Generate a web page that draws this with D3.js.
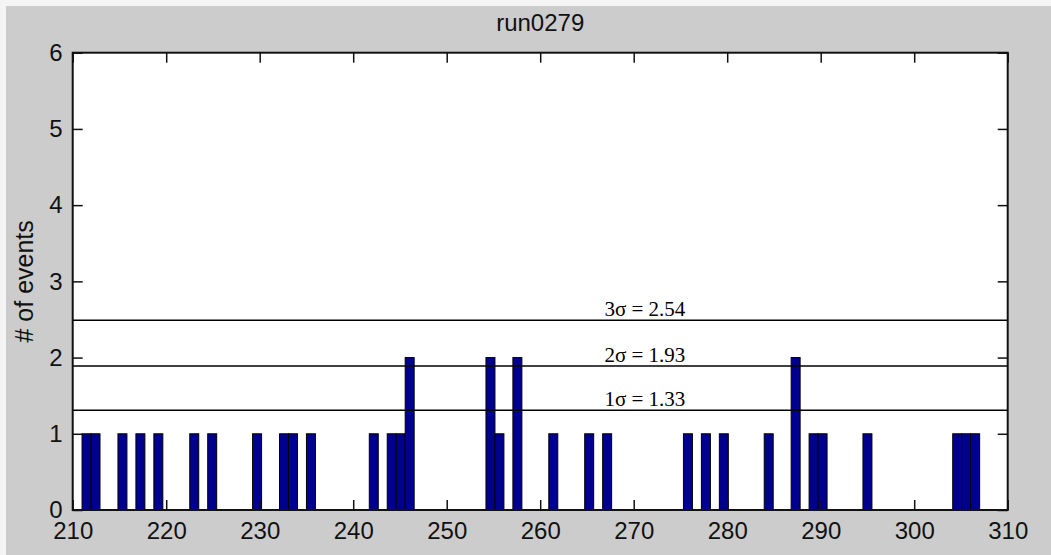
<!DOCTYPE html>
<html>
<head>
<meta charset="utf-8">
<script src="https://cdn.jsdelivr.net/npm/d3@7"></script>
<style>
  body { margin: 0; background: #ffffff; }
  text { font-family: "Liberation Sans", Arial, sans-serif; }
</style>
</head>
<body>
<div id="chart"></div>
<script>
// histogram bins (bin centres) and counts
var binCenters = [211.48, 212.44, 215.32, 217.24, 219.16, 223.00, 224.92, 229.72, 232.60, 233.56,
                  235.48, 242.20, 244.12, 245.08, 246.04, 254.68, 255.64, 257.56, 261.40, 265.24,
                  267.16, 275.80, 277.72, 279.64, 284.44, 287.32, 289.24, 290.20, 295.00, 304.60,
                  305.56, 306.52];
var counts = [1, 1, 1, 1, 1, 1, 1, 1, 1, 1,
              1, 1, 1, 1, 2, 2, 1, 2, 1, 1,
              1, 1, 1, 1, 1, 2, 1, 1, 1, 1,
              1, 1];
var binWidth = 0.96;

// sigma threshold lines
var sigmaLevels = [1.31, 1.89, 2.49];
var sigmaLabels = ["1\u03c3 = 1.33", "2\u03c3 = 1.93", "3\u03c3 = 2.54"];

var xTicks = [210, 220, 230, 240, 250, 260, 270, 280, 290, 300, 310];
var yTicks = [0, 1, 2, 3, 4, 5, 6];
var titleText = "run0279";
var yLabel = "# of events";

var W = 1051, H = 555;
var margin = {top: 52.7, right: 43.3, bottom: 45, left: 72.7},
    width = W - margin.left - margin.right,
    height = 510 - margin.top;

var svg = d3.select("#chart").append("svg")
    .attr("width", W)
    .attr("height", H);

// figure background (light edge on top/left, grey elsewhere)
svg.append("rect").attr("width", W).attr("height", H).attr("fill", "#f4f4f4");
svg.append("rect").attr("x", 6).attr("y", 6).attr("width", W - 6).attr("height", H - 6).attr("fill", "#cccccc");

var g = svg.append("g")
    .attr("transform", "translate(" + margin.left + "," + margin.top + ")");

var x = d3.scaleLinear().domain([210, 310]).range([0, width]);
var y = d3.scaleLinear().domain([0, 6]).range([height, 0]);

// axes background
g.append("rect")
    .attr("width", width)
    .attr("height", height)
    .attr("fill", "#ffffff");

// bars
g.selectAll(".bar")
    .data(binCenters)
  .enter().append("rect")
    .attr("class", "bar")
    .attr("x", function(d) { return x(d - binWidth / 2); })
    .attr("width", function(d) { return x(d + binWidth / 2) - x(d - binWidth / 2); })
    .attr("y", function(d, i) { return y(counts[i]); })
    .attr("height", function(d, i) { return y(0) - y(counts[i]); })
    .attr("fill", "#000090")
    .attr("stroke", "#000000")
    .attr("stroke-width", 1);

// sigma lines
g.selectAll(".sig")
    .data(sigmaLevels)
  .enter().append("line")
    .attr("class", "sig")
    .attr("x1", 0)
    .attr("x2", width)
    .attr("y1", function(d) { return y(d); })
    .attr("y2", function(d) { return y(d); })
    .attr("stroke", "#000000")
    .attr("stroke-width", 1.5);

g.selectAll(".siglab")
    .data(sigmaLevels)
  .enter().append("text")
    .attr("class", "siglab")
    .attr("x", x(271.2))
    .attr("y", function(d) { return y(d) - 4; })
    .attr("text-anchor", "middle")
    .style("font-family", "'Liberation Serif', 'Times New Roman', serif")
    .style("font-size", "21px")
    .text(function(d, i) { return sigmaLabels[i]; });

// axes: ticks inside on all four sides
var tickLen = 10;
g.append("g")
    .attr("transform", "translate(0," + height + ")")
    .call(d3.axisBottom(x).tickValues(xTicks).tickSize(-tickLen).tickPadding(12));
g.append("g")
    .call(d3.axisLeft(y).tickValues(yTicks).tickSize(-tickLen).tickPadding(10).tickFormat(d3.format("d")));
g.append("g")
    .call(d3.axisTop(x).tickValues(xTicks).tickSize(-tickLen).tickFormat(""));
g.append("g")
    .attr("transform", "translate(" + width + ",0)")
    .call(d3.axisRight(y).tickValues(yTicks).tickSize(-tickLen).tickFormat(""));

g.selectAll(".domain").remove();
g.selectAll(".tick line").attr("stroke", "#111111").attr("stroke-width", 1.5);
g.selectAll(".tick text")
    .attr("fill", "#111111")
    .style("font-family", "'Liberation Sans', Arial, sans-serif")
    .style("font-size", "24px");

// axes box
g.append("rect")
    .attr("width", width)
    .attr("height", height)
    .attr("fill", "none")
    .attr("stroke", "#111111")
    .attr("stroke-width", 2);

// title
svg.append("text")
    .attr("x", margin.left + width / 2)
    .attr("y", 31)
    .attr("text-anchor", "middle")
    .attr("fill", "#111111")
    .style("font-size", "24px")
    .text(titleText);

// y label
svg.append("text")
    .attr("transform", "translate(33," + (margin.top + height / 2) + ") rotate(-90)")
    .attr("text-anchor", "middle")
    .attr("fill", "#111111")
    .style("font-size", "25px")
    .text(yLabel);
</script>
</body>
</html>
